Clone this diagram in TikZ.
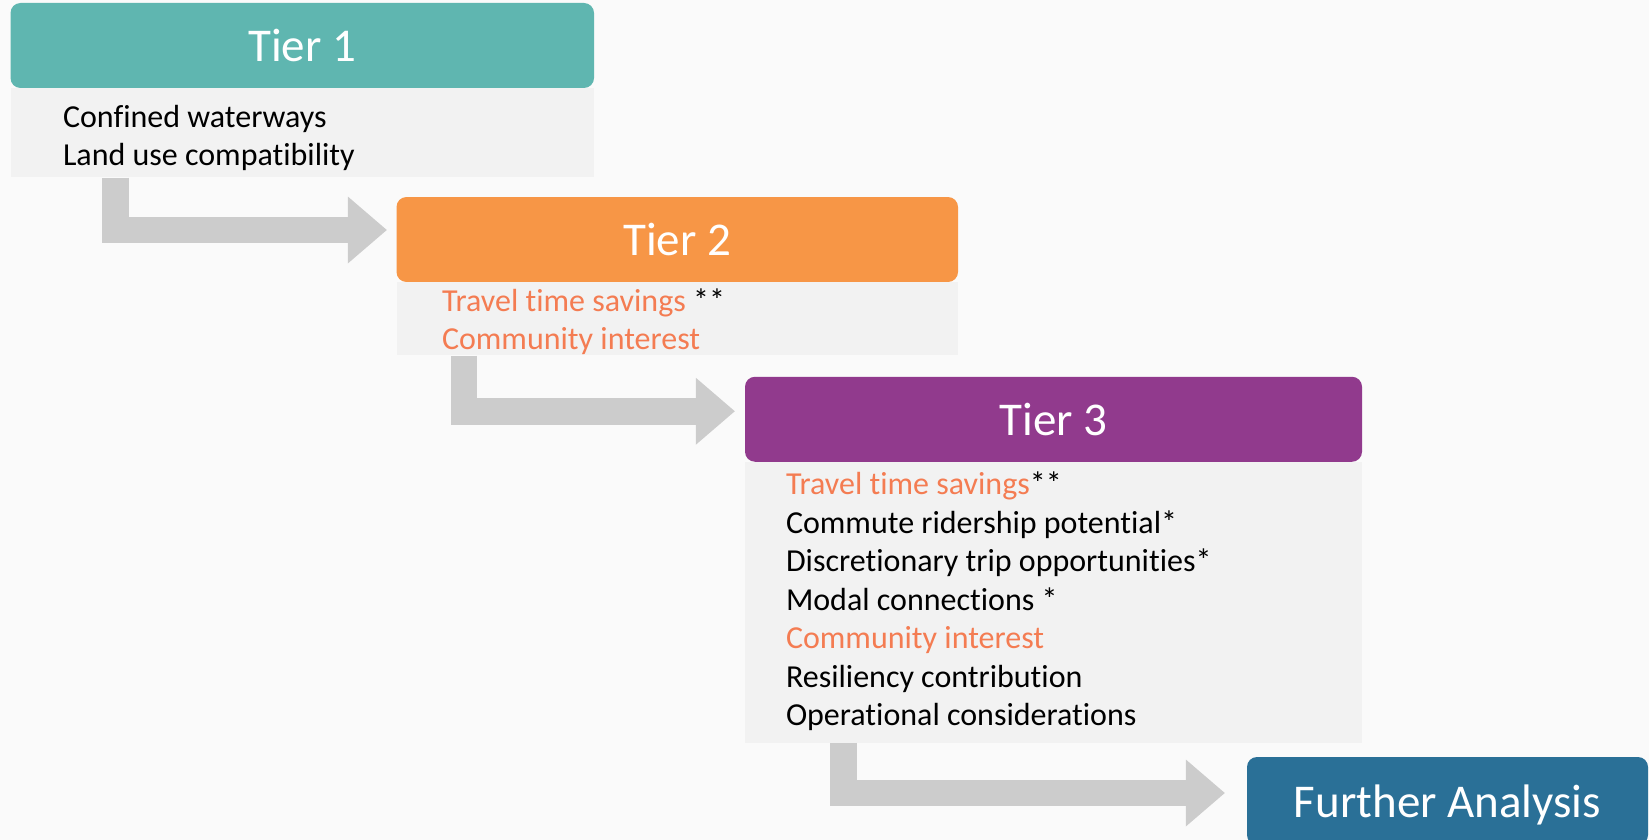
\documentclass[tikz,border=0pt]{standalone}
\usepackage{fontspec}
\setmainfont{Carlito}[Ligatures=NoCommon]
\usetikzlibrary{arrows.meta}
\definecolor{pagegrey}{HTML}{FAFAFA}
\definecolor{bodygrey}{HTML}{F2F2F2}
\definecolor{arrowgrey}{HTML}{CCCCCC}
\definecolor{tierteal}{HTML}{5FB6B0}
\definecolor{tierorange}{HTML}{F79646}
\definecolor{tierpurple}{HTML}{913A8D}
\definecolor{tierblue}{HTML}{2A7097}
\definecolor{hilite}{HTML}{F47C52}
\tikzstyle{tierhead} = [rectangle, rounded corners=10pt, text=white, inner sep=0pt,
    minimum height=85pt, text depth=0pt, font=\fontsize{47}{56}\selectfont]
\tikzstyle{tierbody} = [rectangle, fill=bodygrey, inner sep=0pt, anchor=north]
\tikzstyle{criteria} = [anchor=base west, align=left, inner sep=0pt,
    font=\fontsize{32}{38.5}\selectfont]
\tikzstyle{bigarrow} = [draw=arrowgrey, line width=26.5pt,
    -{Triangle[length=39pt, width=67pt, line width=0pt]}]

\begin{document}
\begin{tikzpicture}[x=1pt, y=-1pt]
    % Page
    \fill [pagegrey] (0,0) rectangle (1649,840);
    \useasboundingbox (0,0) rectangle (1649,840);
    % Place nodes (criteria lists sit on the baseline of their last line)
    \node [tierhead, fill=tierteal, minimum width=583.5pt] (t1head) at (302.25,45.5) {Tier 1};
    \node [tierbody, minimum width=583.5pt, minimum height=89pt] (t1body) at (t1head.south) {};
    \node [criteria] (t1list) at ([xshift=52.5pt, yshift=-77.5pt] t1head.south west)
        {Confined waterways\\Land use compatibility};
    \node [tierhead, fill=tierorange, minimum width=561.5pt] (t2head) at (677.25,239.5) {Tier 2};
    \node [tierbody, minimum width=561.5pt, minimum height=73pt] (t2body) at (t2head.south) {};
    \node [criteria] (t2list) at ([xshift=45.5pt, yshift=-67.5pt] t2head.south west)
        {\textcolor{hilite}{Travel time savings} **\\\textcolor{hilite}{Community interest}};
    \node [tierhead, fill=tierpurple, minimum width=617pt] (t3head) at (1053.5,419.25) {Tier 3};
    \node [tierbody, minimum width=617pt, minimum height=280.5pt] (t3body) at (t3head.south) {};
    \node [criteria] (t3list) at ([xshift=41pt, yshift=-264pt] t3head.south west)
        {\textcolor{hilite}{Travel time savings}**\\Commute ridership potential*\\
         Discretionary trip opportunities*\\Modal connections *\\
         \textcolor{hilite}{Community interest}\\Resiliency contribution\\
         Operational considerations};
    \node [tierhead, fill=tierblue, minimum width=401pt, minimum height=88pt] (further) at (1447.5,801) {Further Analysis};
    \node [anchor=base east, font=\fontsize{24}{28}\selectfont\bfseries] (pagenum) at (5,846) {1};
    % Draw arrows
    \path [bigarrow] ([xshift=105pt] t1body.south west) |- ([xshift=-9.5pt, yshift=9.5pt] t2head.west);
    \path [bigarrow] ([xshift=67.5pt] t2body.south west) |- ([xshift=-10pt, yshift=8pt] t3head.west);
    \path [bigarrow] ([xshift=98.5pt] t3body.south west) |- ([xshift=-22pt, yshift=8pt] further.west);
\end{tikzpicture}
\end{document}
